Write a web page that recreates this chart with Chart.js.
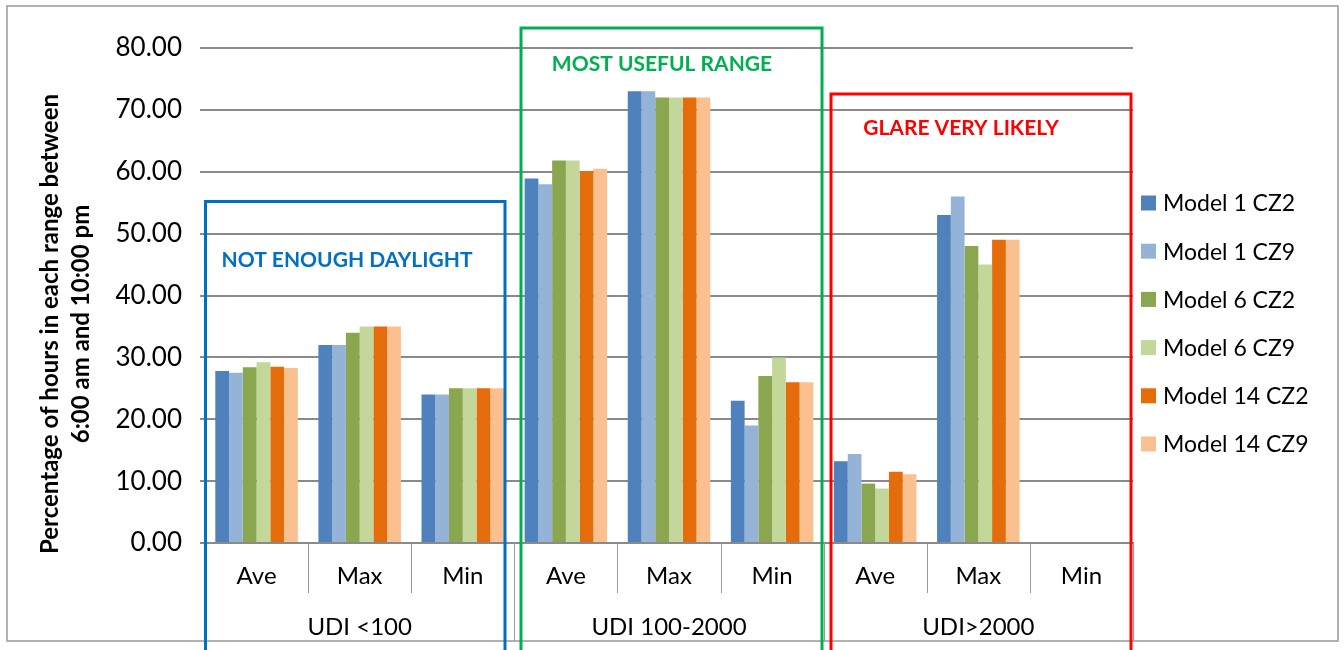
<!DOCTYPE html>
<html>
<head>
<meta charset="utf-8">
<script src="https://cdn.jsdelivr.net/npm/chart.js@4.4.1/dist/chart.umd.min.js"></script>
<style>
  html, body { margin: 0; padding: 0; background: #fff; }
  #wrap { width: 1344px; height: 650px; }
</style>
</head>
<body>
<div id="wrap"><canvas id="udiChart" width="1344" height="650"></canvas></div>
<script>
const groups = ['UDI <100', 'UDI 100-2000', 'UDI>2000']
const stats = ['Ave', 'Max', 'Min']
const categories = groups.flatMap(() => stats)

const yTicks = [0, 10, 20, 30, 40, 50, 60, 70, 80]

const seriesNames = ['Model 1 CZ2', 'Model 1 CZ9', 'Model 6 CZ2', 'Model 6 CZ9', 'Model 14 CZ2', 'Model 14 CZ9']
const model1CZ2 = [27.8, 32, 24, 58.9, 73, 23, 13.2, 53, 0]
const model1CZ9 = [27.5, 32, 24, 58.0, 73, 19, 14.4, 56, 0]
const model6CZ2 = [28.4, 34, 25, 61.8, 72, 27, 9.6, 48, 0]
const model6CZ9 = [29.2, 35, 25, 61.8, 72, 30, 8.8, 45, 0]
const model14CZ2 = [28.5, 35, 25, 60.1, 72, 26, 11.5, 49, 0]
const model14CZ9 = [28.3, 35, 25, 60.5, 72, 26, 11.1, 49, 0]

const seriesColors = ['#4F81BD', '#95B3D7', '#8AA64E', '#C4D79B', '#E46C0A', '#FAC090']
const seriesData = [model1CZ2, model1CZ9, model6CZ2, model6CZ9, model14CZ2, model14CZ9]

const font = 'Lato'

// boxes, separators, group labels, legend, axis title
const decor = {
    id: 'decor',
    afterDraw(chart) {
        const ctx = chart.ctx
        const area = chart.chartArea
        const x = chart.scales.x
        const n = categories.length
        const step = (area.right - area.left) / n

        ctx.save()
        // category separators
        ctx.strokeStyle = '#9a9a9a'
        ctx.lineWidth = 1
        for (let i = 0; i <= n; i++) {
            const px = Math.round(area.left + i * step) + 0.5
            const isGroup = i % stats.length === 0
            ctx.beginPath()
            ctx.moveTo(px, area.bottom)
            ctx.lineTo(px, isGroup ? 641 : 593)
            ctx.stroke()
        }

        // group labels
        ctx.fillStyle = '#000'
        ctx.font = `24px ${font}`
        ctx.textAlign = 'center'
        ctx.textBaseline = 'middle'
        groups.forEach((g, i) => {
            const a = x.getPixelForValue(i * 3)
            const b = x.getPixelForValue(i * 3 + 2)
            ctx.fillText(g, (a + b) / 2, 627)
        })

        // y axis title
        ctx.save()
        ctx.translate(0, 324)
        ctx.rotate(-Math.PI / 2)
        ctx.font = `bold 24px ${font}`
        ctx.fillText('Percentage of hours in each range between', 0, 50)
        ctx.fillText('6:00 am and 10:00 pm', 0, 81)
        ctx.restore()

        // legend
        ctx.textAlign = 'left'
        ctx.font = `23px ${font}`
        chart.data.datasets.forEach((ds, i) => {
            const cy = 203 + i * 48.2
            ctx.fillStyle = ds.backgroundColor
            ctx.fillRect(1141, cy - 7.5, 15, 15)
            ctx.fillStyle = '#000'
            ctx.fillText(ds.label, 1163, cy + 1)
        })

        // outer border
        ctx.strokeStyle = '#999'
        ctx.lineWidth = 1.5
        ctx.strokeRect(7, 6, 1331, 635)

        // highlight boxes
        const boxes = [
            { l: 205.5, t: 201.5, r: 505, color: '#0070C0', text: 'NOT ENOUGH DAYLIGHT', tx: 347, ty: 260 },
            { l: 521, t: 28, r: 822, color: '#00B050', text: 'MOST USEFUL RANGE', tx: 662, ty: 64 },
            { l: 831, t: 94, r: 1131, color: '#FF0000', text: 'GLARE VERY LIKELY', tx: 961, ty: 128 }
        ]
        ctx.lineWidth = 3
        ctx.textAlign = 'center'
        ctx.font = `bold 21px ${font}`
        boxes.forEach(b => {
            ctx.strokeStyle = b.color
            ctx.strokeRect(b.l, b.t, b.r - b.l, 700)
            ctx.fillStyle = b.color
            ctx.fillText(b.text, b.tx, b.ty)
        })
        ctx.restore()
    }
}

const ctx = document.getElementById('udiChart').getContext('2d')

new Chart(ctx, {
    type: 'bar',
    data: {
        labels: categories,
        datasets: seriesNames.map((name, i) => ({
            label: name,
            data: seriesData[i],
            backgroundColor: seriesColors[i],
            borderWidth: 0,
            categoryPercentage: 0.8,
            barPercentage: 1.0
        }))
    },
    options: {
        responsive: false,
        animation: false,
        devicePixelRatio: 1,
        layout: {
            padding: { left: 0, top: 48, right: 211, bottom: 9 }
        },
        scales: {
            x: {
                grid: { drawOnChartArea: false, drawTicks: false },
                border: { color: '#8a8a8a', width: 2 },
                ticks: {
                    color: '#000',
                    padding: 19,
                    font: { family: font, size: 24 }
                },
                afterFit: (scale) => { scale.height = 98 }
            },
            y: {
                min: 0,
                max: 80,
                afterBuildTicks: (scale) => { scale.ticks = yTicks.map(v => ({ value: v })) },
                grid: { color: '#8a8a8a', lineWidth: 2, tickLength: 5 },
                border: { display: false },
                ticks: {
                    color: '#000',
                    padding: 18,
                    font: { family: font, size: 26 },
                    callback: (v) => Number(v).toFixed(2)
                },
                afterFit: (scale) => { scale.width = 205 }
            }
        },
        plugins: {
            legend: { display: false },
            tooltip: { enabled: false }
        }
    },
    plugins: [decor]
})
</script>
</body>
</html>
